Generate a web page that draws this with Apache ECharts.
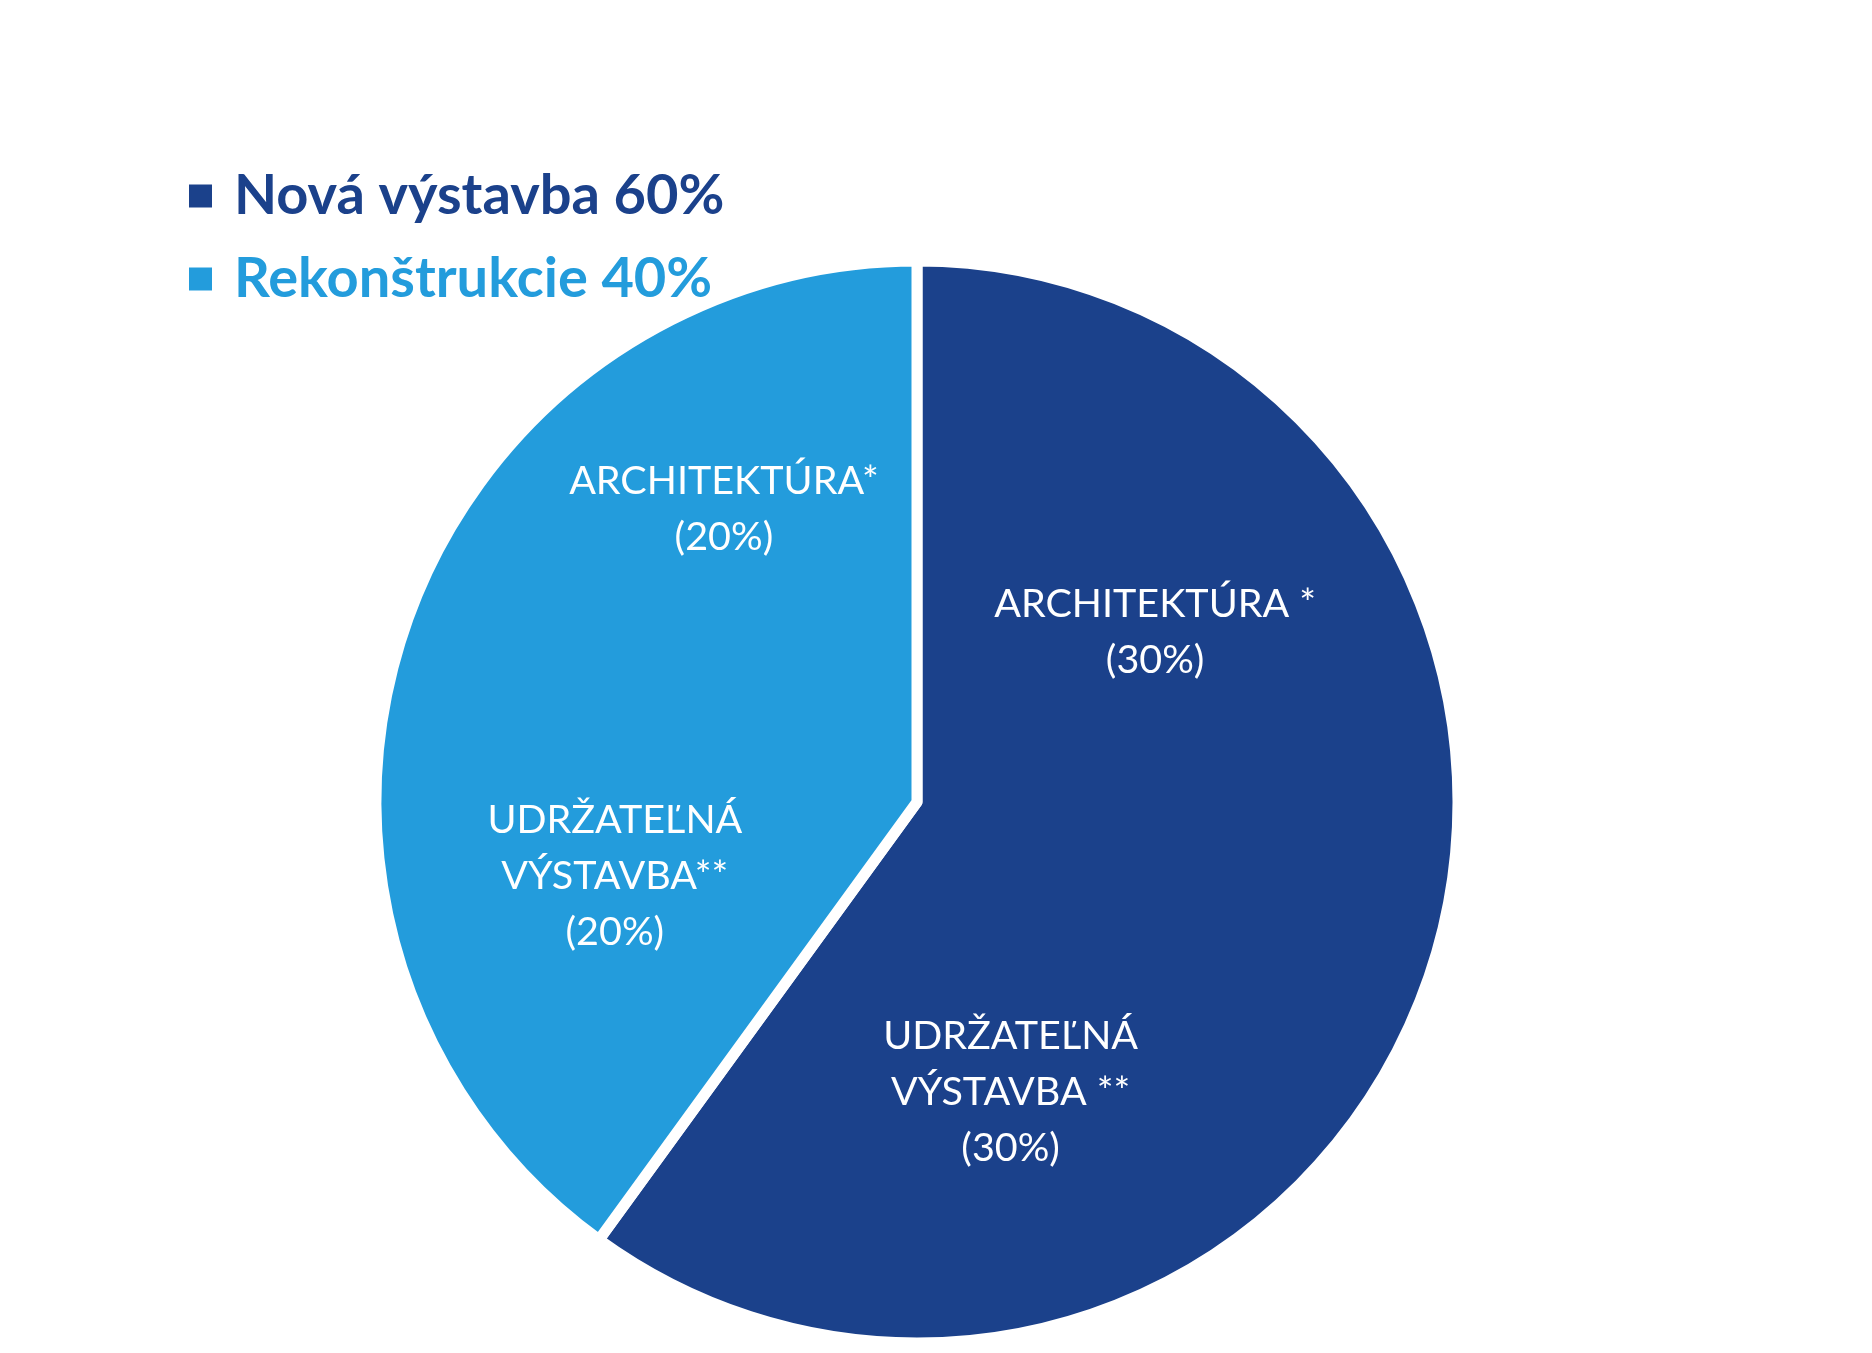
<!DOCTYPE html>
<html>
<head>
<meta charset="utf-8">
<script src="https://cdn.jsdelivr.net/npm/echarts@6/dist/echarts.min.js"></script>
<style>
html,body{margin:0;padding:0;background:#fff;}
#chart{width:1872px;height:1353px;}
</style>
</head>
<body>
<div id="chart"></div>
<script>
// Data
const groupNames = ['Nová výstavba', 'Rekonštrukcie'];
const groupValues = [60, 40];
const subNames = ['ARCHITEKTÚRA *', 'UDRŽATEĽNÁ\nVÝSTAVBA **', 'UDRŽATEĽNÁ\nVÝSTAVBA**', 'ARCHITEKTÚRA*'];
const subValues = [30, 30, 20, 20];

const colors = ['#1B418B', '#239CDC'];
const FONT = 'Lato';

const chart = echarts.init(document.getElementById('chart'));
const center = [917, 802];

const subOffsets = [[-7, 8], [0, 2], [-14, -19], [-15, -48]];

chart.setOption({
  backgroundColor: '#ffffff',
  animation: false,
  legend: {
    orient: 'vertical',
    left: 189,
    top: 163,
    padding: 0,
    itemWidth: 23,
    itemHeight: 23,
    itemGap: 17,
    icon: 'rect',
    selectedMode: false,
    itemStyle: { borderWidth: 0 },
    formatter: function (name) {
      const i = groupNames.indexOf(name);
      return name + ' ' + groupValues[i] + '%';
    },
    data: groupNames.map((n, i) => ({
      name: n,
      textStyle: { color: colors[i] }
    })),
    textStyle: {
      fontFamily: FONT,
      fontWeight: 'bold',
      fontSize: 56,
      lineHeight: 66,
      padding: [0, 0, 0, 17]
    }
  },
  series: [
    {
      type: 'pie',
      center: center,
      radius: [0, 541],
      startAngle: 90,
      clockwise: true,
      silent: true,
      label: { show: false },
      labelLine: { show: false },
      itemStyle: { borderColor: '#ffffff', borderWidth: 11 },
      data: groupNames.map((n, i) => ({
        name: n,
        value: groupValues[i],
        itemStyle: { color: colors[i] }
      }))
    },
    {
      type: 'pie',
      center: center,
      radius: [65, 535],
      startAngle: 90,
      clockwise: true,
      silent: true,
      labelLine: { show: false },
      itemStyle: { color: 'rgba(0,0,0,0)', borderWidth: 0 },
      label: {
        show: true,
        position: 'inside',
        color: '#ffffff',
        fontFamily: FONT,
        fontSize: 39.5,
        lineHeight: 56,
        align: 'center',
        formatter: function (p) {
          return p.name + '\n(' + p.value + '%)';
        }
      },
      data: subNames.map((n, i) => ({
        name: n,
        value: subValues[i],
        label: { offset: subOffsets[i] }
      }))
    }
  ]
});
</script>
</body>
</html>
